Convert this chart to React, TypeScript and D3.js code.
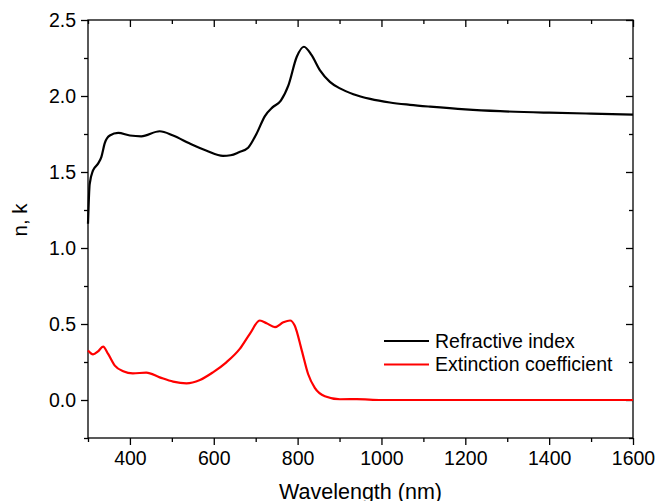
import React, { useEffect, useRef } from "react";
import * as d3 from "d3";

// refractive index n (wavelength nm, value)
const nWave = [300, 304, 312, 324, 332, 340, 352, 372, 400, 427, 471, 503, 543, 583, 622, 640, 660, 682, 702, 722, 740, 760, 778, 798, 815, 833, 853, 877, 901, 933, 973, 1020, 1068, 1116, 1200, 1283, 1400, 1500, 1600];
const nVals = [1.16, 1.42, 1.51, 1.555, 1.6, 1.69, 1.74, 1.757, 1.74, 1.735, 1.768, 1.74, 1.687, 1.64, 1.606, 1.61, 1.63, 1.66, 1.752, 1.868, 1.925, 1.97, 2.07, 2.258, 2.324, 2.27, 2.17, 2.093, 2.05, 2.012, 1.981, 1.957, 1.942, 1.93, 1.912, 1.9, 1.89, 1.884, 1.878];

// extinction coefficient k
const kWave = [300, 312, 324, 336, 348, 364, 384, 407, 439, 471, 503, 535, 567, 598, 630, 662, 686, 710, 726, 746, 766, 782, 793, 810, 825, 841, 865, 901, 941, 1000, 1200, 1400, 1600];
const kVals = [0.325, 0.3, 0.32, 0.351, 0.303, 0.226, 0.189, 0.175, 0.18, 0.149, 0.121, 0.11, 0.132, 0.182, 0.248, 0.336, 0.435, 0.523, 0.505, 0.479, 0.511, 0.523, 0.49, 0.325, 0.171, 0.08, 0.025, 0.005, 0.006, 0.0, 0.0, 0.0, 0.0];

const xMajor = [400, 600, 800, 1000, 1200, 1400, 1600];
const xMinor = [300, 500, 700, 900, 1100, 1300, 1500];
const yMajor = [0, 0.5, 1.0, 1.5, 2.0, 2.5];
const yMinor = [-0.25, 0.25, 0.75, 1.25, 1.75, 2.25];

const seriesNames = ["Refractive index", "Extinction coefficient"];
const seriesColors = ["#000000", "#ff0000"];

const W = 655;
const H = 501;
const margin = { left: 88, right: 22, top: 20, bottom: 63 };
const FONT = "'Liberation Sans', Arial, sans-serif";

const App = () => {
  const ref = useRef<SVGSVGElement>(null);

  useEffect(() => {
    const svg = d3.select(ref.current);
    svg.selectAll("*").remove();

    const x = d3.scaleLinear().domain([300, 1600]).range([margin.left, W - margin.right]);
    const y = d3.scaleLinear().domain([-0.25, 2.5]).range([H - margin.bottom, margin.top]);

    const g = svg.append("g");

    // axes: outer ticks on bottom/left, inner ticks on top/right
    const addAxis = (axis: any, transform: string, labels: boolean) => {
      const a = g.append("g").attr("transform", transform).call(axis);
      a.select(".domain").remove();
      a.selectAll("line").attr("stroke", "#000").attr("stroke-width", 1.3);
      if (!labels) a.selectAll("text").remove();
      a.selectAll("text")
        .attr("font-family", FONT)
        .attr("font-size", 19.5)
        .attr("fill", "#000");
      return a;
    };

    const bottom = H - margin.bottom;
    const right = W - margin.right;

    addAxis(d3.axisBottom(x).tickValues(xMajor).tickSize(7).tickPadding(6).tickFormat(d3.format("d")), `translate(0,${bottom})`, true);
    addAxis(d3.axisBottom(x).tickValues(xMinor).tickSize(4), `translate(0,${bottom})`, false);
    addAxis(d3.axisTop(x).tickValues(xMajor).tickSize(-7), `translate(0,${margin.top})`, false);
    addAxis(d3.axisTop(x).tickValues(xMinor).tickSize(-4), `translate(0,${margin.top})`, false);

    addAxis(d3.axisLeft(y).tickValues(yMajor).tickSize(7).tickPadding(5).tickFormat(d3.format(".1f")), `translate(${margin.left},0)`, true);
    addAxis(d3.axisLeft(y).tickValues(yMinor).tickSize(4), `translate(${margin.left},0)`, false);
    addAxis(d3.axisRight(y).tickValues(yMajor).tickSize(-7), `translate(${right},0)`, false);
    addAxis(d3.axisRight(y).tickValues(yMinor).tickSize(-4), `translate(${right},0)`, false);

    // frame
    g.append("rect")
      .attr("x", margin.left)
      .attr("y", margin.top)
      .attr("width", right - margin.left)
      .attr("height", bottom - margin.top)
      .attr("fill", "none")
      .attr("stroke", "#000")
      .attr("stroke-width", 1.3);

    const line = d3.line<[number, number]>()
      .x(d => x(d[0]))
      .y(d => y(d[1]))
      .curve(d3.curveMonotoneX);

    const nData = nWave.map((w, i) => [w, nVals[i]] as [number, number]);
    const kData = kWave.map((w, i) => [w, kVals[i]] as [number, number]);

    g.append("path").attr("d", line(nData)).attr("fill", "none")
      .attr("stroke", seriesColors[0]).attr("stroke-width", 2.2).attr("stroke-linejoin", "round");
    g.append("path").attr("d", line(kData)).attr("fill", "none")
      .attr("stroke", seriesColors[1]).attr("stroke-width", 2.2).attr("stroke-linejoin", "round");

    // legend
    const leg = g.append("g").attr("transform", "translate(384,341)");
    seriesNames.forEach((name, i) => {
      const row = leg.append("g").attr("transform", `translate(0,${i * 23.5})`);
      row.append("line").attr("x1", 0).attr("x2", 45).attr("y1", 0).attr("y2", 0)
        .attr("stroke", seriesColors[i]).attr("stroke-width", 2.2);
      row.append("text").attr("x", 51).attr("y", 0).attr("dy", "0.35em")
        .attr("font-family", FONT).attr("font-size", 19.5).attr("fill", "#000")
        .text(name);
    });

    // axis titles
    g.append("text")
      .attr("x", (margin.left + right) / 2)
      .attr("y", 499)
      .attr("text-anchor", "middle")
      .attr("font-family", FONT).attr("font-size", 21.5).attr("fill", "#000")
      .text("Wavelength (nm)");

    g.append("text")
      .attr("transform", `translate(27,220) rotate(-90)`)
      .attr("text-anchor", "middle")
      .attr("font-family", FONT).attr("font-size", 20.5).attr("fill", "#000")
      .text("n, k");
  }, []);

  return (
    <svg
      ref={ref}
      width={W}
      height={H}
      style={{ position: "absolute", left: 0, top: 0, background: "#fff" }}
    />
  );
};

export default App;
